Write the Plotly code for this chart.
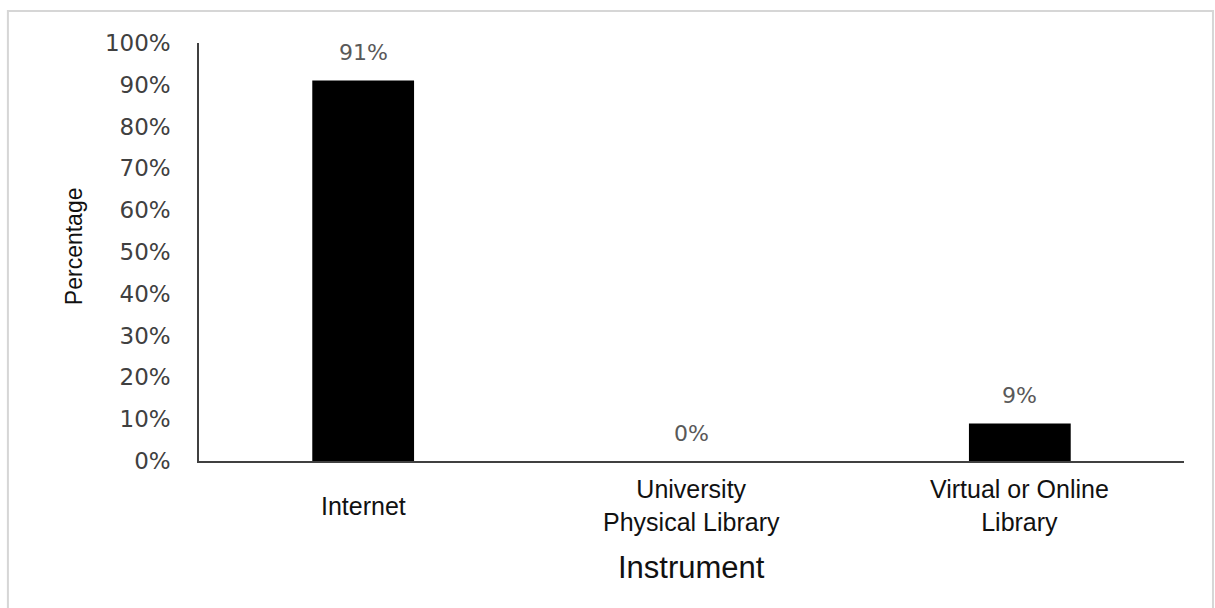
import plotly.graph_objects as go

# Share of respondents by information source
categories = ["Internet", "University Physical Library", "Virtual or Online Library"]
category_labels = ["Internet", "University<br>Physical Library", "Virtual or Online<br>Library"]
percentages = [91, 0, 9]
y_ticks = [0, 10, 20, 30, 40, 50, 60, 70, 80, 90, 100]
y_tick_text = [f"{v}%" for v in y_ticks]

W, H = 1215, 608
L, R, T, B = 199, 31, 43, 147

fig = go.Figure()
fig.add_trace(go.Bar(
    x=categories,
    y=percentages,
    width=0.31,
    marker=dict(color="#000000", line=dict(width=0)),
    hoverinfo="x+y",
))

annotations = []
# value labels above each bar
for cat, val in zip(categories, percentages):
    annotations.append(dict(
        x=cat, y=val, xref="x", yref="y",
        text=f"{val}%", showarrow=False,
        yanchor="middle", yshift=28,
        font=dict(family="DejaVu Sans", size=22, color="#595959"),
    ))
# category labels under the axis, each block centred on the same line
for cat, lab in zip(categories, category_labels):
    annotations.append(dict(
        x=cat, y=-0.107, xref="x", yref="paper",
        text=lab, showarrow=False,
        yanchor="middle", xanchor="center",
        font=dict(family="Liberation Sans", size=25, color="#111111"),
    ))
# axis titles
annotations.append(dict(
    x=0.5, y=-0.2536, xref="paper", yref="paper",
    text="Instrument", showarrow=False, yanchor="middle",
    font=dict(family="Liberation Sans", size=31, color="#111111"),
))
annotations.append(dict(
    x=-0.1269, y=0.514, xref="paper", yref="paper",
    text="Percentage", showarrow=False, textangle=-90,
    xanchor="center", yanchor="middle",
    font=dict(family="Liberation Sans", size=23, color="#111111"),
))

fig.update_layout(
    width=W, height=H,
    margin=dict(l=L, r=R, t=T, b=B),
    paper_bgcolor="white",
    plot_bgcolor="white",
    showlegend=False,
    annotations=annotations,
    shapes=[dict(
        type="rect", xref="paper", yref="paper",
        x0=-0.194, x1=1.0294, y0=-0.40, y1=1.0766,
        line=dict(color="#d6d6d6", width=2),
        fillcolor="rgba(0,0,0,0)", layer="below",
    )],
    xaxis=dict(
        showticklabels=False, ticks="", showgrid=False, zeroline=False,
        showline=True, linecolor="#404040", linewidth=1.5,
        range=[-0.5, 2.5],
    ),
    yaxis=dict(
        range=[0, 100], tickmode="array", tickvals=y_ticks, ticktext=y_tick_text,
        showgrid=False, zeroline=False, ticks="",
        showline=True, linecolor="#404040", linewidth=1.5,
        ticklabelstandoff=22,
        tickfont=dict(family="DejaVu Sans", size=23, color="#404040"),
    ),
)

fig.write_html("out.html")
